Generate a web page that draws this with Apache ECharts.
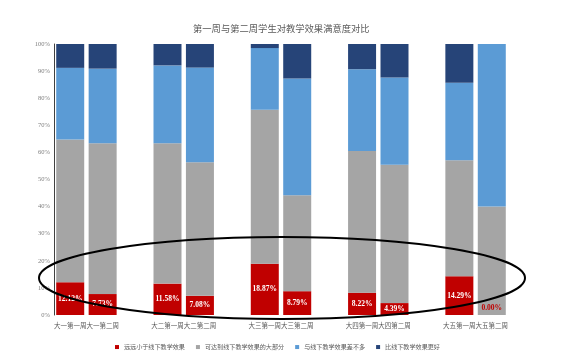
<!DOCTYPE html>
<html>
<head>
<meta charset="utf-8">
<script src="https://cdn.jsdelivr.net/npm/echarts@6/dist/echarts.min.js"></script>
<style>html,body{margin:0;padding:0;background:#fff}#c{width:573px;height:360px}</style>
</head>
<body>
<div id="c"></div>
<script>
var categories = ['大一第一周','大一第二周','大二第一周','大二第二周','大三第一周','大三第二周','大四第一周','大四第二周','大五第一周','大五第二周'];
var seriesNames = ['远远小于线下教学效果','可达到线下教学效果的大部分','与线下教学效果差不多','比线下教学效果更好'];
var muchWorse = [12.12, 7.73, 11.58, 7.08, 18.87, 8.79, 8.22, 4.39, 14.29, 0];
var mostly    = [52.68, 55.67, 51.82, 49.32, 56.83, 35.41, 52.28, 51.01, 42.85, 40];
var similar   = [26.40, 27.50, 28.70, 34.90, 22.80, 43.10, 30.20, 32.20, 28.57, 60];
var better    = [8.80, 9.10, 7.90, 8.70, 1.50, 12.70, 9.30, 12.40, 14.29, 0];
var yTicks = [0,10,20,30,40,50,60,70,80,90,100];

// insert an empty slot between each pair of bars
function spread(arr, blank){
  var out = [];
  for (var i = 0; i < arr.length; i++){
    out.push(arr[i]);
    if (i % 2 === 1 && i < arr.length - 1) out.push(blank);
  }
  return out;
}
var xCats = spread(categories, '');
var colors = ['#C00000','#A5A5A5','#5B9BD5','#264478'];
var serif = 'Liberation Serif';
var cjk = 'Noto Sans CJK SC';

var redData = spread(muchWorse, '-').map(function(v){
  if (v === 0) return {value: 0, label: {color: '#C00000', offset: [0, -7]}};
  return v;
});

var chart = echarts.init(document.getElementById('c'));
chart.setOption({
  animation: false,
  backgroundColor: '#fff',
  title: {
    text: '第一周与第二周学生对教学效果满意度对比',
    left: 188, top: 19,
    textStyle: {fontFamily: cjk, fontSize: 9.3, fontWeight: 'normal', color: '#595959'}
  },
  legend: {
    data: seriesNames,
    left: 110, top: 339,
    icon: 'rect', itemWidth: 4, itemHeight: 4, itemGap: 11,
    textStyle: {fontFamily: cjk, fontSize: 6.1, color: '#595959'}
  },
  grid: {left: 54, right: 65, top: 44, bottom: 45, containLabel: false},
  xAxis: {
    type: 'category', data: xCats,
    axisLine: {show: false}, axisTick: {show: false},
    axisLabel: {interval: 0, fontFamily: cjk, fontSize: 6.5, color: '#595959', margin: 7}
  },
  yAxis: {
    type: 'value', min: 0, max: 100, interval: 10,
    axisLine: {show: true, lineStyle: {color: '#404040', width: 1}},
    axisTick: {show: false}, splitLine: {show: false},
    axisLabel: {formatter: function(v){ return yTicks.indexOf(v) >= 0 ? v + '%' : ''; }, fontFamily: serif, fontSize: 6.5, color: '#7f7f7f', margin: 4}
  },
  series: [
    {name: seriesNames[0], type: 'bar', stack: 's', barWidth: 28, data: redData,
     itemStyle: {color: colors[0]},
     label: {show: true, position: 'inside', formatter: function(p){ return Number(p.value).toFixed(2) + '%'; },
             color: '#fff', fontFamily: serif, fontWeight: 'bold', fontSize: 7.5}},
    {name: seriesNames[1], type: 'bar', stack: 's', barWidth: 28, data: spread(mostly, '-'), itemStyle: {color: colors[1]}},
    {name: seriesNames[2], type: 'bar', stack: 's', barWidth: 28, data: spread(similar, '-'), itemStyle: {color: colors[2]}},
    {name: seriesNames[3], type: 'bar', stack: 's', barWidth: 28, data: spread(better, '-'), itemStyle: {color: colors[3]}}
  ],
  graphic: [{
    type: 'ellipse', z: 100,
    shape: {cx: 282, cy: 278, rx: 243, ry: 41},
    style: {fill: null, stroke: '#000', lineWidth: 2}
  }]
});
</script>
</body>
</html>
